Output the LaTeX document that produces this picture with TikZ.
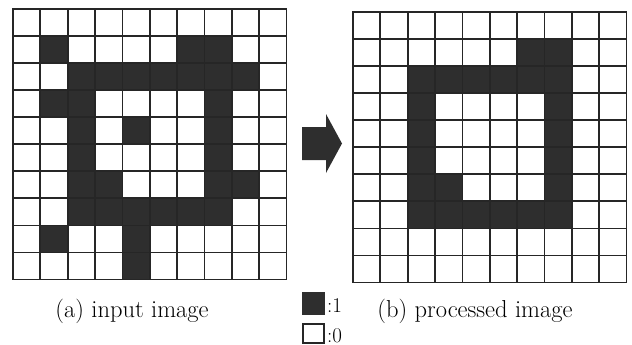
\documentclass[tikz,border=0pt]{standalone}
\begin{document}
\begin{tikzpicture}[x=1pt,y=-1pt,
  cellfill/.style={fill=black!82},
  gridline/.style={draw=black!85,line width=1.8pt,line cap=rect},
  caption/.style={anchor=base,inner sep=0pt,font=\fontsize{24.5}{26}\selectfont},
  legendtext/.style={anchor=base west,inner sep=0pt,font=\fontsize{21}{22}\selectfont}]
\useasboundingbox (0,0) rectangle (632,345);
\def\cw{27.35}
\def\ch{27.05}
% ---------- left grid (input image)
\begin{scope}[shift={(13,9)}]
  \foreach \c/\r in {1/1,6/1,7/1,
                     2/2,3/2,4/2,5/2,6/2,7/2,8/2,
                     1/3,2/3,7/3,
                     2/4,4/4,7/4,
                     2/5,7/5,
                     2/6,3/6,7/6,8/6,
                     2/7,3/7,4/7,5/7,6/7,7/7,
                     1/8,4/8,
                     4/9}
    \fill[cellfill] (\c*\cw,\r*\ch) rectangle ++(\cw,\ch);
  \foreach \i in {0,...,10} {
    \draw[gridline] (\i*\cw,0) -- (\i*\cw,10*\ch);
    \draw[gridline] (0,\i*\ch) -- (10*\cw,\i*\ch);
  }
\end{scope}
% ---------- right grid (processed image)
\begin{scope}[shift={(353,12)}]
  \foreach \c/\r in {6/1,7/1,
                     2/2,3/2,4/2,5/2,6/2,7/2,
                     2/3,7/3,
                     2/4,7/4,
                     2/5,7/5,
                     2/6,3/6,7/6,
                     2/7,3/7,4/7,5/7,6/7,7/7}
    \fill[cellfill] (\c*\cw,\r*\ch) rectangle ++(\cw,\ch);
  \foreach \i in {0,...,10} {
    \draw[gridline] (\i*\cw,0) -- (\i*\cw,10*\ch);
    \draw[gridline] (0,\i*\ch) -- (10*\cw,\i*\ch);
  }
\end{scope}
% ---------- arrow
\fill[cellfill] (302,127) -- (326,127) -- (326,114) -- (342,143.5)
  -- (326,173) -- (326,160) -- (302,160) -- cycle;
% ---------- captions
\node[caption] (capa) at (132,317) {(a) input image};
\node[caption] (capb) at (475,317) {(b) processed image};
% ---------- legend
\fill[cellfill] (302,292) rectangle (325,315);
\draw[black!85,line width=1.6pt,fill=white] (303,324) rectangle (324,343);
\node[legendtext] (one) at (327,312) {:1};
\node[legendtext] (zero) at (327,342) {:0};
\end{tikzpicture}
\end{document}
